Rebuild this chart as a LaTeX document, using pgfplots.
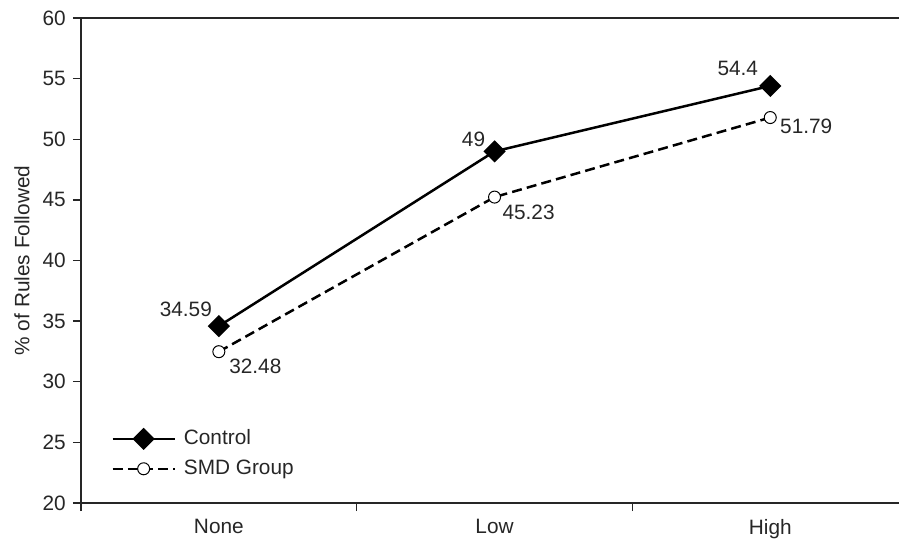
\documentclass[border=0pt]{standalone}
\usepackage{pgfplots}
\pgfplotsset{compat=1.18}
\usepackage{pgfplotstable}
\usepackage{fontspec}
\setmainfont{Liberation Sans}

% x: 0=None, 1=Low, 2=High; dx/dy move the value labels off the marks
\pgfplotstableread{
x  y      lab    dx      dy
0  34.59  34.59  -16.5   8.5
1  49     49     -10.5   6.2
2  54.4   54.4   -16.25  8.75
}\control
\pgfplotstableread{
x  y      lab    dx      dy
0  32.48  32.48  18.25   -7.4
1  45.23  45.23  17      -7.5
2  51.79  51.79  18      -4.25
}\smd

\begin{document}
\fontsize{10.4}{12}\selectfont
\begin{tikzpicture}
    \begin{axis}[
        scale only axis,
        width=409pt,height=242.5pt,
        axis lines*=left,
        axis line style={line width=0.7pt,black!85},
        tick align=outside,
        xmin=-0.5,xmax=2.467,
        ymin=20,ymax=60,
        ytick={20,25,...,60},
        xtick={0,1,2},
        xticklabels={None,Low,High},
        minor xtick={-0.5,0.5,1.5},
        major x tick style={draw=none},
        minor x tick style={line width=0.7pt,black!85},
        y tick style={line width=0.7pt,black!85},
        major tick length=4pt,
        minor tick length=4pt,
        xticklabel style={yshift=-0.5pt},
        ticklabel style={text=black!85},
        /pgf/number format/assume math mode=true,
        ylabel={\% of Rules Followed},
        ylabel style={at={(axis description cs:0,0.5)},anchor=center,yshift=29.5pt,text=black!85},
        legend style={at={(rel axis cs:0,0)},anchor=south west,xshift=12pt,yshift=8.5pt,
            draw=none,fill=none,row sep=2pt,
            nodes={text=black!85}},
        legend cell align=left,
        legend image code/.code={%
            \draw[#1,line width=1.25pt] (0pt,0pt) -- (31pt,0pt);
            \draw[#1] plot coordinates {(15.5pt,0pt)};
            \path (33pt,0pt);},
        point meta=explicit symbolic,
        nodes near coords,
        visualization depends on={\thisrow{dx} \as \dx},
        visualization depends on={\thisrow{dy} \as \dy},
        nodes near coords style={anchor=center,xshift=\dx pt,yshift=\dy pt,inner sep=0pt,text=black!85},
        clip=false,
    ]
        \addplot[line width=1.25pt,black,mark=square*,mark size=3.3pt,
            mark options={rotate=45,solid,fill=black}]
            table[x=x,y=y,meta=lab] {\control};
        \addlegendentry{Control}
        \addplot[line width=1.25pt,black,dash pattern=on 5pt off 2.6pt,mark=*,mark size=3pt,
            mark options={solid,fill=white,line width=0.5pt}]
            table[x=x,y=y,meta=lab] {\smd};
        \addlegendentry{SMD Group}
        \draw[line width=0.7pt,black!85] (rel axis cs:0,1) -- (rel axis cs:1,1);
        \coordinate (bl) at (rel axis cs:0,0);
        \coordinate (tr) at (rel axis cs:1,1);
    \end{axis}
    \pgfresetboundingbox
    \path ([xshift=-40.5pt,yshift=-19.5pt]bl) rectangle ([yshift=9pt]tr);
\end{tikzpicture}
\end{document}
